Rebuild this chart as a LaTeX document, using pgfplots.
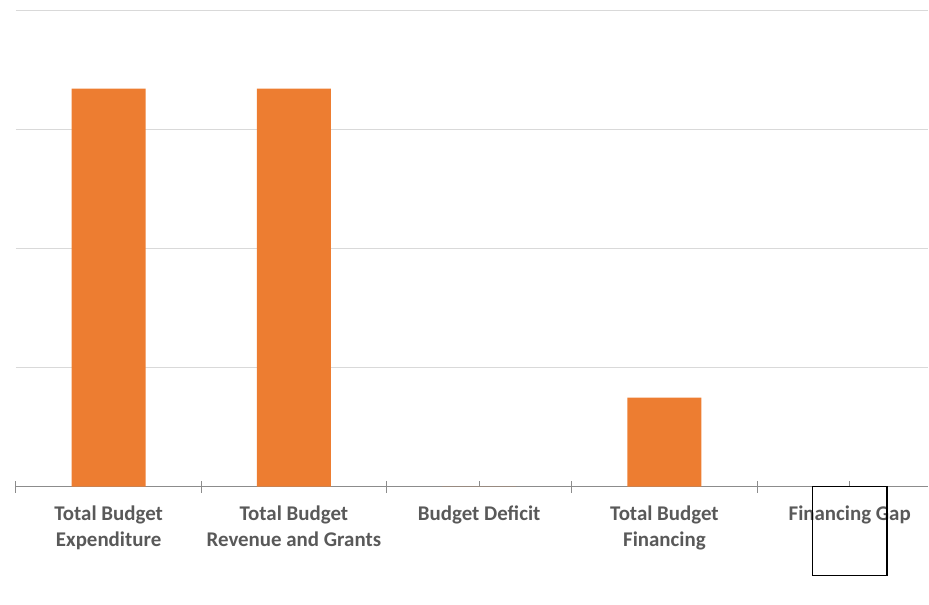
\documentclass[border=0pt]{standalone}
\usepackage{pgfplots}
\pgfplotsset{compat=1.18}
\usepackage{fontspec}
\setmainfont{Carlito}
\definecolor{barorange}{HTML}{ED7D31}
\definecolor{labgray}{HTML}{595959}
\definecolor{axgray}{HTML}{8C8C8C}
\definecolor{gridgray}{HTML}{D9D9D9}
\begin{document}
\begin{tikzpicture}
\begin{axis}[
  scale only axis,
  width=913bp, height=605bp,
  xmin=-0.5, xmax=4.424,
  ymin=-0.9895, ymax=4.084,
  axis x line=middle,
  axis y line*=left,
  y axis line style={draw=none},
  x axis line style={-, draw=axgray, line width=1.5bp},
  ytick={1,2,3,4},
  yticklabels={},
  ymajorgrids,
  grid style={gridgray, line width=1bp},
  major y tick style={draw=none},
  xtick={0,1,2,3,4},
  xticklabels={{Total Budget\\Expenditure},{Total Budget\\Revenue and Grants},{Budget Deficit},{Total Budget\\Financing},{Financing Gap}},
  hide obscured x ticks=false,
  xticklabel style={align=center, text=labgray, font=\fontsize{21}{26}\selectfont\bfseries, yshift=-16bp},
  major x tick style={draw=axgray, line width=1bp},
  major tick length=6bp,
  tick align=inside,
  extra x ticks={-0.5,0.5,1.5,2.5,3.5},
  extra x tick labels={},
  extra x tick style={major tick length=12bp, tick align=center, major x tick style={draw=axgray, line width=1bp}},
  set layers,
]
\addplot[ybar, bar width=0.4, bar shift=0pt, fill=barorange, draw=none]
  coordinates {(0,3.340) (1,3.340) (2,0) (3,0.746)};
\addplot[ybar, bar width=0.4, bar shift=0pt, fill=none, draw=black, line width=1.5bp, on layer=axis foreground]
  coordinates {(4,-0.746)};
\end{axis}
\path ([xshift=-16bp]current axis.south west);
\end{tikzpicture}
\end{document}
